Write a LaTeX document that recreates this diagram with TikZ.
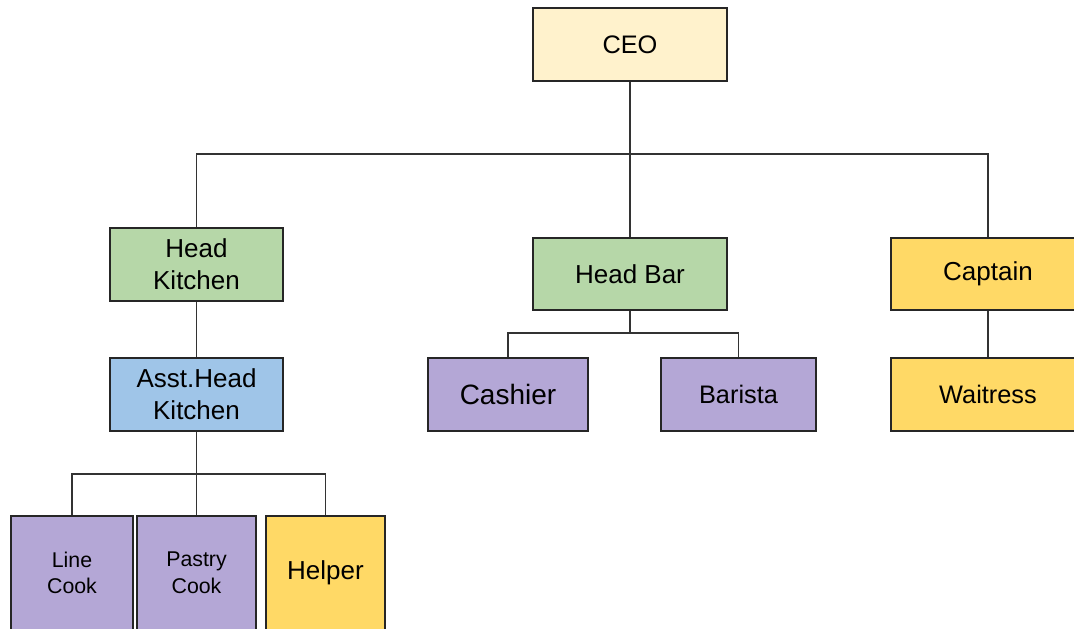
\documentclass[tikz,border=0pt]{standalone}
\usepackage{fontspec}
\setmainfont{Liberation Sans}
\usetikzlibrary{positioning}

\definecolor{ceoyellow}{HTML}{FFF2CC}
\definecolor{headgreen}{HTML}{B6D7A8}
\definecolor{staffyellow}{HTML}{FFD966}
\definecolor{asstblue}{HTML}{9FC5E8}
\definecolor{staffpurple}{HTML}{B4A7D6}

\begin{document}
\begin{tikzpicture}[x=0.75pt, y=-0.75pt,
    box/.style={draw=black!85, line width=1.1pt, align=center, inner sep=0pt,
      minimum height=54.75pt, font=\fontsize{19.5}{24}\selectfont},
    link/.style={draw=black!80, line width=1.1pt}]
  \useasboundingbox (0,0) rectangle (1074,628);
  \clip (0,0) rectangle (1074,628);
  % Top
  \node[box, fill=ceoyellow, minimum width=145.5pt, font=\fontsize{19}{24}\selectfont] (ceo) at (630,44.5) {CEO};
  % Heads
  \node[box, fill=headgreen, minimum width=129.75pt] (kitchen) at (196.5,264.5) {Head\\Kitchen};
  \node[box, fill=headgreen, minimum width=145.5pt, minimum height=54pt] (bar) at (630,274) {Head Bar};
  \node[box, fill=staffyellow, minimum width=145.5pt, minimum height=54pt] (captain) at (988,274) {Captain};
  % Second level
  \node[box, fill=asstblue, minimum width=129.75pt] (asst) at (196.5,394.5) {Asst.Head\\Kitchen};
  \node[box, fill=staffpurple, minimum width=120pt, font=\fontsize{21}{24}\selectfont] (cashier) at (508,394.5) {Cashier};
  \node[box, fill=staffpurple, minimum width=116.25pt, font=\fontsize{19}{24}\selectfont] (barista) at (738.5,394.5) {Barista};
  \node[box, fill=staffyellow, minimum width=145.5pt, font=\fontsize{19}{24}\selectfont] (waitress) at (988,394.5) {Waitress};
  % Kitchen staff
  \node[box, fill=staffpurple, minimum width=91.5pt, minimum height=85.5pt, font=\fontsize{16}{20}\selectfont] (linecook) at (72,573) {Line\\Cook};
  \node[box, fill=staffpurple, minimum width=89.25pt, minimum height=85.5pt, font=\fontsize{16}{20}\selectfont] (pastry) at (196.5,573) {Pastry\\Cook};
  \node[box, fill=staffyellow, minimum width=89.25pt, minimum height=85.5pt] (helper) at (325.5,573) {Helper};
  % Connectors
  \coordinate (bus) at (630,154);
  \draw[link] (ceo.south) -- (bus);
  \draw[link] (bus) -| (kitchen.north);
  \draw[link] (bus) -- (bar.north);
  \draw[link] (bus) -| (captain.north);
  \draw[link] (kitchen.south) -- (asst.north);
  \coordinate (barbus) at (630,333);
  \draw[link] (bar.south) -- (barbus);
  \draw[link] (barbus) -| (cashier.north);
  \draw[link] (barbus) -| (barista.north);
  \draw[link] (captain.south) -- (waitress.north);
  \coordinate (asstbus) at (196.5,474);
  \draw[link] (asst.south) -- (asstbus);
  \draw[link] (asstbus) -| (linecook.north);
  \draw[link] (asstbus) -- (pastry.north);
  \draw[link] (asstbus) -| (helper.north);
\end{tikzpicture}
\end{document}
